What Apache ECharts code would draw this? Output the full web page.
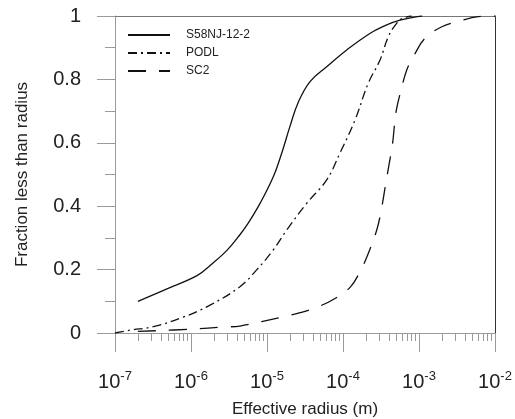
<!DOCTYPE html>
<html>
<head>
<meta charset="utf-8">
<script src="https://cdn.jsdelivr.net/npm/echarts@6/dist/echarts.min.js"></script>
<style>html,body{margin:0;padding:0;background:#fff}#c{width:515px;height:419px}</style>
</head>
<body>
<div id="c"></div>
<script>
// ---- data ----
var seriesNames = ['S58NJ-12-2', 'PODL', 'SC2'];

var s58X = [2e-7, 5e-7, 1.2e-6, 1.8e-6, 2.95e-6, 4.4e-6, 5.6e-6, 8.1e-6, 1.21e-5, 1.56e-5, 2.0e-5, 2.58e-5, 3.68e-5, 6.1e-5, 1.12e-4, 2.26e-4, 3.76e-4, 5.6e-4, 8.4e-4, 1.1e-3];
var s58Y = [0.10, 0.141, 0.181, 0.214, 0.26, 0.31, 0.345, 0.409, 0.493, 0.567, 0.651, 0.728, 0.793, 0.84, 0.893, 0.945, 0.972, 0.987, 0.996, 1.0];

var podlX = [1e-7, 1.58e-7, 3.2e-7, 7.9e-7, 1.78e-6, 4.4e-6, 7.3e-6, 1.21e-5, 1.82e-5, 3.33e-5, 6.1e-5, 9.1e-5, 1.44e-4, 2.15e-4, 3.07e-4, 3.95e-4, 5.08e-4, 6.2e-4, 8e-4];
var podlY = [0.0, 0.009, 0.02, 0.05, 0.088, 0.146, 0.199, 0.262, 0.325, 0.409, 0.483, 0.567, 0.672, 0.788, 0.861, 0.935, 0.977, 0.994, 1.0];

var sc2X = [2e-7, 1e-6, 2.8e-6, 4.4e-6, 8.5e-6, 1.56e-5, 2.72e-5, 4.73e-5, 7.85e-5, 1.24e-4, 1.67e-4, 2.15e-4, 2.78e-4, 3.2e-4, 3.7e-4, 4.06e-4, 4.5e-4, 4.8e-4, 5.1e-4, 5.9e-4, 6.9e-4, 8.9e-4, 1.2e-3, 2.0e-3, 3.5e-3, 6e-3, 1e-2];
var sc2Y = [0.005, 0.012, 0.019, 0.022, 0.036, 0.05, 0.064, 0.083, 0.109, 0.144, 0.193, 0.251, 0.325, 0.39, 0.48, 0.535, 0.6, 0.665, 0.71, 0.772, 0.83, 0.882, 0.93, 0.966, 0.985, 0.998, 1.0];

var xDecades = [1e-7, 1e-6, 1e-5, 1e-4, 1e-3, 1e-2];
var yTicks = [0, 0.2, 0.4, 0.6, 0.8, 1];

var xTitle = 'Effective radius (m)';
var yTitle = 'Fraction less than radius';

function pairs(xs, ys) { return xs.map(function (x, i) { return [x, ys[i]]; }); }

// minor tick positions 2..9 x each decade
var minorX = [];
for (var d = 0; d < xDecades.length - 1; d++) {
  for (var k = 2; k <= 9; k++) minorX.push(k * xDecades[d]);
}

var FONT = '"Liberation Sans", Arial, sans-serif';
var AX = '#9a9a9a';
var TXT = '#222';

var chart = echarts.init(document.getElementById('c'), null, {renderer: 'canvas'});
chart.setOption({
  animation: false,
  backgroundColor: '#fff',
  textStyle: {fontFamily: FONT},
  grid: {left: 115, right: 20, top: 16, bottom: 86, containLabel: false, outerBoundsMode: 'none'},
  legend: {
    orient: 'vertical', left: 122, top: 24,
    itemWidth: 42, itemHeight: 10, itemGap: 6,
    data: seriesNames,
    itemStyle: {opacity: 0},
    textStyle: {fontFamily: FONT, fontSize: 12, color: TXT, padding: [0, 0, 0, 11]}
  },
  xAxis: [
    {
      type: 'log', logBase: 10, min: xDecades[0], max: xDecades[xDecades.length - 1],
      position: 'bottom',
      axisLine: {show: true, lineStyle: {color: AX, width: 1}},
      axisTick: {show: true, inside: false, length: 19, lineStyle: {color: AX}, customValues: xDecades},
      axisLabel: {
        customValues: xDecades,
        margin: 37,
        formatter: function (v) {
          var e = Math.round(Math.log10(v));
          return '{b|10}{s|' + e + '}';
        },
        rich: {
          b: {fontSize: 20, color: TXT, fontFamily: FONT},
          s: {fontSize: 13, color: TXT, fontFamily: FONT, padding: [0, 0, 11, 0]}
        }
      },
      splitLine: {show: false},
      minorTick: {show: false},
      name: xTitle, nameLocation: 'middle', nameGap: 68,
      nameTextStyle: {fontSize: 17, color: TXT, fontFamily: FONT}
    },
    {
      type: 'log', logBase: 10, min: xDecades[0], max: xDecades[xDecades.length - 1],
      position: 'bottom',
      axisLine: {show: false},
      axisTick: {show: true, inside: false, length: 8, lineStyle: {color: AX}, customValues: minorX},
      axisLabel: {show: false},
      splitLine: {show: false}
    },
    {
      type: 'log', logBase: 10, min: xDecades[0], max: xDecades[xDecades.length - 1],
      position: 'top',
      axisLine: {show: true, lineStyle: {color: '#777', width: 1}},
      axisTick: {show: false}, axisLabel: {show: false}, splitLine: {show: false}
    }
  ],
  yAxis: [
    {
      type: 'value', min: 0, max: 1, interval: 0.2,
      position: 'left',
      axisLine: {show: true, lineStyle: {color: AX, width: 1}},
      axisTick: {show: true, inside: false, length: 18, lineStyle: {color: AX}},
      minorTick: {show: true, splitNumber: 2, length: 10, lineStyle: {color: AX}},
      axisLabel: {fontSize: 20, color: TXT, margin: 34, fontFamily: FONT,
        formatter: function (v) { return String(Math.round(v * 10) / 10); }},
      splitLine: {show: false},
      name: yTitle, nameLocation: 'middle', nameGap: 84,
      nameTextStyle: {fontSize: 17, color: TXT, fontFamily: FONT}
    },
    {
      type: 'value', min: 0, max: 1, position: 'right',
      axisLine: {show: true, lineStyle: {color: '#333', width: 1}},
      axisTick: {show: false}, axisLabel: {show: false}, splitLine: {show: false}
    }
  ],
  series: [
    {
      name: seriesNames[0], type: 'line', xAxisIndex: 0, yAxisIndex: 0,
      data: pairs(s58X, s58Y), symbol: 'none', showSymbol: false, smooth: 0.4,
      lineStyle: {color: '#111', width: 1.3, type: 'solid'}, itemStyle: {color: '#111'}
    },
    {
      name: seriesNames[1], type: 'line', xAxisIndex: 0, yAxisIndex: 0,
      data: pairs(podlX, podlY), symbol: 'none', showSymbol: false, smooth: 0.4,
      lineStyle: {color: '#111', width: 1.3, type: [9, 4, 2, 4]}, itemStyle: {color: '#111'}
    },
    {
      name: seriesNames[2], type: 'line', xAxisIndex: 0, yAxisIndex: 0,
      data: pairs(sc2X, sc2Y), symbol: 'none', showSymbol: false, smooth: 0.4,
      lineStyle: {color: '#111', width: 1.3, type: [18, 13]}, itemStyle: {color: '#111'}
    }
  ]
});
</script>
</body>
</html>
